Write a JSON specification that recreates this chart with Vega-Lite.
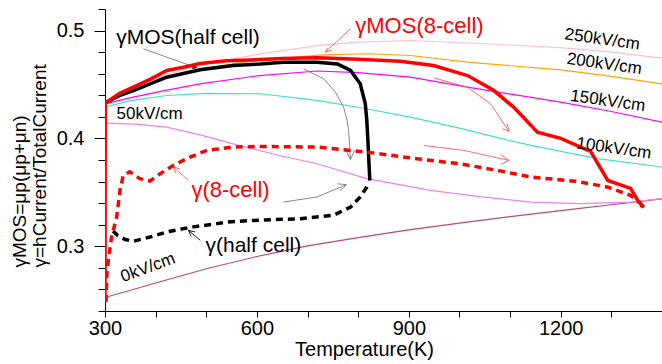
{
  "$schema": "https://vega.github.io/schema/vega-lite/v6.json",
  "width": 557,
  "height": 302,
  "autosize": {"type": "none"},
  "padding": {"left": 105, "top": 9, "right": 0, "bottom": 53},
  "background": "white",
  "config": {"view": {"stroke": null}, "font": "Liberation Sans"},
  "resolve": {"scale": {"color": "independent"}, "axis": {"y": "independent"}},
  "datasets": {
    "thin": [
      {"s":"0kV/cm","T":300,"v":0.2525},{"s":"0kV/cm","T":400,"v":0.266},{"s":"0kV/cm","T":500,"v":0.2792},{"s":"0kV/cm","T":600,"v":0.2905},{"s":"0kV/cm","T":700,"v":0.3003},{"s":"0kV/cm","T":800,"v":0.308},{"s":"0kV/cm","T":900,"v":0.3152},{"s":"0kV/cm","T":1000,"v":0.3215},{"s":"0kV/cm","T":1100,"v":0.3275},{"s":"0kV/cm","T":1200,"v":0.333},{"s":"0kV/cm","T":1300,"v":0.3385},{"s":"0kV/cm","T":1400,"v":0.344},
      {"s":"50kV/cm","T":300,"v":0.4142},{"s":"50kV/cm","T":360,"v":0.4132},{"s":"50kV/cm","T":422,"v":0.4105},{"s":"50kV/cm","T":490,"v":0.403},{"s":"50kV/cm","T":553,"v":0.395},{"s":"50kV/cm","T":650,"v":0.3835},{"s":"50kV/cm","T":719,"v":0.3765},{"s":"50kV/cm","T":817,"v":0.3627},{"s":"50kV/cm","T":943,"v":0.3519},{"s":"50kV/cm","T":1040,"v":0.346},{"s":"50kV/cm","T":1141,"v":0.341},{"s":"50kV/cm","T":1240,"v":0.3395},{"s":"50kV/cm","T":1338,"v":0.341},{"s":"50kV/cm","T":1400,"v":0.3442},
      {"s":"100kV/cm","T":300,"v":0.429},{"s":"100kV/cm","T":350,"v":0.435},{"s":"100kV/cm","T":422,"v":0.4398},{"s":"100kV/cm","T":500,"v":0.4418},{"s":"100kV/cm","T":607,"v":0.4414},{"s":"100kV/cm","T":719,"v":0.4352},{"s":"100kV/cm","T":810,"v":0.428},{"s":"100kV/cm","T":903,"v":0.4198},{"s":"100kV/cm","T":1000,"v":0.4095},{"s":"100kV/cm","T":1081,"v":0.40},{"s":"100kV/cm","T":1141,"v":0.3935},{"s":"100kV/cm","T":1273,"v":0.3812},{"s":"100kV/cm","T":1400,"v":0.3735},
      {"s":"150kV/cm","T":300,"v":0.432},{"s":"150kV/cm","T":356,"v":0.4383},{"s":"150kV/cm","T":420,"v":0.4445},{"s":"150kV/cm","T":488,"v":0.4506},{"s":"150kV/cm","T":600,"v":0.458},{"s":"150kV/cm","T":719,"v":0.4625},{"s":"150kV/cm","T":800,"v":0.461},{"s":"150kV/cm","T":903,"v":0.4568},{"s":"150kV/cm","T":1016,"v":0.4475},{"s":"150kV/cm","T":1200,"v":0.4336},{"s":"150kV/cm","T":1300,"v":0.425},{"s":"150kV/cm","T":1400,"v":0.4151},
      {"s":"200kV/cm","T":300,"v":0.433},{"s":"200kV/cm","T":356,"v":0.445},{"s":"200kV/cm","T":422,"v":0.456},{"s":"200kV/cm","T":488,"v":0.4645},{"s":"200kV/cm","T":600,"v":0.4725},{"s":"200kV/cm","T":730,"v":0.4775},{"s":"200kV/cm","T":820,"v":0.4785},{"s":"200kV/cm","T":903,"v":0.4769},{"s":"200kV/cm","T":1016,"v":0.4707},{"s":"200kV/cm","T":1200,"v":0.4636},{"s":"200kV/cm","T":1300,"v":0.4575},{"s":"200kV/cm","T":1400,"v":0.4506},
      {"s":"250kV/cm","T":300,"v":0.434},{"s":"250kV/cm","T":356,"v":0.447},{"s":"250kV/cm","T":422,"v":0.459},{"s":"250kV/cm","T":500,"v":0.469},{"s":"250kV/cm","T":607,"v":0.4784},{"s":"250kV/cm","T":719,"v":0.486},{"s":"250kV/cm","T":800,"v":0.4893},{"s":"250kV/cm","T":903,"v":0.4908},{"s":"250kV/cm","T":1016,"v":0.4885},{"s":"250kV/cm","T":1100,"v":0.4866},{"s":"250kV/cm","T":1200,"v":0.4842},{"s":"250kV/cm","T":1300,"v":0.48},{"s":"250kV/cm","T":1400,"v":0.4745}
    ],
    "solid": [
      {"s":"γMOS(half cell)","o":1,"T":300,"v":0.433},{"s":"γMOS(half cell)","o":2,"T":330,"v":0.44},{"s":"γMOS(half cell)","o":3,"T":356,"v":0.4444},{"s":"γMOS(half cell)","o":4,"T":422,"v":0.4568},{"s":"γMOS(half cell)","o":5,"T":488,"v":0.4636},{"s":"γMOS(half cell)","o":6,"T":553,"v":0.4676},{"s":"γMOS(half cell)","o":7,"T":607,"v":0.469},{"s":"γMOS(half cell)","o":8,"T":652,"v":0.4707},{"s":"γMOS(half cell)","o":9,"T":719,"v":0.4707},{"s":"γMOS(half cell)","o":10,"T":759,"v":0.469},{"s":"γMOS(half cell)","o":11,"T":785,"v":0.463},{"s":"γMOS(half cell)","o":12,"T":804,"v":0.4506},{"s":"γMOS(half cell)","o":13,"T":814,"v":0.4324},{"s":"γMOS(half cell)","o":14,"T":817,"v":0.4167},{"s":"γMOS(half cell)","o":15,"T":819,"v":0.40},{"s":"γMOS(half cell)","o":16,"T":821,"v":0.38},{"s":"γMOS(half cell)","o":17,"T":823,"v":0.361},
      {"s":"γMOS(8-cell)","o":1,"T":300,"v":0.248},{"s":"γMOS(8-cell)","o":2,"T":300.5,"v":0.433},{"s":"γMOS(8-cell)","o":3,"T":330,"v":0.442},{"s":"γMOS(8-cell)","o":4,"T":356,"v":0.4475},{"s":"γMOS(8-cell)","o":5,"T":390,"v":0.455},{"s":"γMOS(8-cell)","o":6,"T":422,"v":0.463},{"s":"γMOS(8-cell)","o":7,"T":455,"v":0.466},{"s":"γMOS(8-cell)","o":8,"T":488,"v":0.4694},{"s":"γMOS(8-cell)","o":9,"T":540,"v":0.472},{"s":"γMOS(8-cell)","o":10,"T":587,"v":0.4728},{"s":"γMOS(8-cell)","o":11,"T":650,"v":0.474},{"s":"γMOS(8-cell)","o":12,"T":719,"v":0.4747},{"s":"γMOS(8-cell)","o":13,"T":800,"v":0.4735},{"s":"γMOS(8-cell)","o":14,"T":883,"v":0.4716},{"s":"γMOS(8-cell)","o":15,"T":949,"v":0.4676},{"s":"γMOS(8-cell)","o":16,"T":1016,"v":0.4583},{"s":"γMOS(8-cell)","o":17,"T":1068,"v":0.4444},{"s":"γMOS(8-cell)","o":18,"T":1107,"v":0.429},{"s":"γMOS(8-cell)","o":19,"T":1154,"v":0.4058},{"s":"γMOS(8-cell)","o":20,"T":1200,"v":0.40},{"s":"γMOS(8-cell)","o":21,"T":1259,"v":0.388},{"s":"γMOS(8-cell)","o":22,"T":1293,"v":0.361},{"s":"γMOS(8-cell)","o":23,"T":1338,"v":0.3537},{"s":"γMOS(8-cell)","o":24,"T":1352,"v":0.3426},{"s":"γMOS(8-cell)","o":25,"T":1364,"v":0.3364},{"s":"γMOS(8-cell)","o":26,"T":1357,"v":0.338}
    ],
    "dashed": [
      {"s":"γ(8-cell)","o":1,"T":302,"v":0.2484},{"s":"γ(8-cell)","o":2,"T":304,"v":0.278},{"s":"γ(8-cell)","o":3,"T":313,"v":0.3086},{"s":"γ(8-cell)","o":4,"T":323,"v":0.327},{"s":"γ(8-cell)","o":5,"T":329.7,"v":0.352},{"s":"γ(8-cell)","o":6,"T":336,"v":0.3657},{"s":"γ(8-cell)","o":7,"T":349,"v":0.369},{"s":"γ(8-cell)","o":8,"T":369,"v":0.3627},{"s":"γ(8-cell)","o":9,"T":389,"v":0.3605},{"s":"γ(8-cell)","o":10,"T":409,"v":0.3673},{"s":"γ(8-cell)","o":11,"T":435,"v":0.375},{"s":"γ(8-cell)","o":12,"T":468,"v":0.3827},{"s":"γ(8-cell)","o":13,"T":501,"v":0.3889},{"s":"γ(8-cell)","o":14,"T":553,"v":0.392},{"s":"γ(8-cell)","o":15,"T":600,"v":0.3926},{"s":"γ(8-cell)","o":16,"T":719,"v":0.392},{"s":"γ(8-cell)","o":17,"T":817,"v":0.3873},{"s":"γ(8-cell)","o":18,"T":916,"v":0.3812},{"s":"γ(8-cell)","o":19,"T":1000,"v":0.3765},{"s":"γ(8-cell)","o":20,"T":1075,"v":0.3704},{"s":"γ(8-cell)","o":21,"T":1141,"v":0.3642},{"s":"γ(8-cell)","o":22,"T":1230,"v":0.3603},{"s":"γ(8-cell)","o":23,"T":1292,"v":0.355},{"s":"γ(8-cell)","o":24,"T":1338,"v":0.3472},{"s":"γ(8-cell)","o":25,"T":1358,"v":0.3395},{"s":"γ(8-cell)","o":26,"T":1364,"v":0.335},
      {"s":"γ(half cell)","o":1,"T":316,"v":0.3142},{"s":"γ(half cell)","o":2,"T":325,"v":0.31},{"s":"γ(half cell)","o":3,"T":340,"v":0.3063},{"s":"γ(half cell)","o":4,"T":356,"v":0.3046},{"s":"γ(half cell)","o":5,"T":389,"v":0.3086},{"s":"γ(half cell)","o":6,"T":422,"v":0.3133},{"s":"γ(half cell)","o":7,"T":455,"v":0.3164},{"s":"γ(half cell)","o":8,"T":475,"v":0.318},{"s":"γ(half cell)","o":9,"T":521,"v":0.321},{"s":"γ(half cell)","o":10,"T":541,"v":0.3225},{"s":"γ(half cell)","o":11,"T":593,"v":0.324},{"s":"γ(half cell)","o":12,"T":686,"v":0.3256},{"s":"γ(half cell)","o":13,"T":751,"v":0.3287},{"s":"γ(half cell)","o":14,"T":785,"v":0.3364},{"s":"γ(half cell)","o":15,"T":804,"v":0.3457},{"s":"γ(half cell)","o":16,"T":817,"v":0.3549},{"s":"γ(half cell)","o":17,"T":821,"v":0.3596}
    ],
    "arrowsGray": [
      {"a":"A1","o":1,"T":375.8,"v":0.4831},{"a":"A1","o":2,"T":478,"v":0.466},
      {"a":"A5","o":1,"T":692.2,"v":0.4645},{"a":"A5","o":2,"T":731.8,"v":0.4553},{"a":"A5","o":3,"T":754.9,"v":0.4429},{"a":"A5","o":4,"T":771.3,"v":0.429},{"a":"A5","o":5,"T":778,"v":0.4167},{"a":"A5","o":6,"T":781.2,"v":0.4074},{"a":"A5","o":7,"T":784.6,"v":0.3812},
      {"a":"H5","o":1,"T":774.7,"v":0.3905},{"a":"H5","o":2,"T":784.6,"v":0.3803},{"a":"H5","o":3,"T":792.5,"v":0.3889},
      {"a":"A6","o":1,"T":652.7,"v":0.341},{"a":"A6","o":2,"T":718.7,"v":0.3457},{"a":"A6","o":3,"T":776.6,"v":0.3571},
      {"a":"H6","o":1,"T":758.9,"v":0.3579},{"a":"H6","o":2,"T":776.6,"v":0.3571},{"a":"H6","o":3,"T":764.8,"v":0.3514}
    ],
    "arrowsRed": [
      {"a":"A2","o":1,"T":784.6,"v":0.5016},{"a":"A2","o":2,"T":735.1,"v":0.48},
      {"a":"H2","o":1,"T":747.8,"v":0.4817},{"a":"H2","o":2,"T":735.1,"v":0.48},{"a":"H2","o":3,"T":739.6,"v":0.4839},
      {"a":"A3","o":1,"T":464.8,"v":0.3611},{"a":"A3","o":2,"T":435,"v":0.3734},
      {"a":"H3","o":1,"T":447.9,"v":0.3718},{"a":"H3","o":2,"T":435,"v":0.3734},{"a":"H3","o":3,"T":440,"v":0.3677},
      {"a":"A7","o":1,"T":949.3,"v":0.4562},{"a":"A7","o":2,"T":1015.4,"v":0.4475},{"a":"A7","o":3,"T":1061.5,"v":0.4321},{"a":"A7","o":4,"T":1097.7,"v":0.4067},
      {"a":"H7","o":1,"T":1094.5,"v":0.4136},{"a":"H7","o":2,"T":1097.7,"v":0.4067},{"a":"H7","o":3,"T":1084.4,"v":0.409},
      {"a":"A8","o":1,"T":929.5,"v":0.3935},{"a":"A8","o":2,"T":1008.7,"v":0.3889},{"a":"A8","o":3,"T":1097.7,"v":0.3796},
      {"a":"H8","o":1,"T":1081.3,"v":0.3852},{"a":"H8","o":2,"T":1097.7,"v":0.3796},{"a":"H8","o":3,"T":1081.3,"v":0.3759}
    ],
    "arrowsBlack": [
      {"a":"A4","o":1,"T":488,"v":0.3056},{"a":"A4","o":2,"T":464.8,"v":0.3148},
      {"a":"H4","o":1,"T":477.7,"v":0.3133},{"a":"H4","o":2,"T":464.8,"v":0.3148},{"a":"H4","o":3,"T":470,"v":0.3091}
    ]
  },
  "layer": [
    {
      "mark": {"type": "rule", "color": "#8c8c8c", "strokeWidth": 1.2},
      "encoding": {"y": {"datum": 0.52, "type": "quantitative",
        "axis": {"orient": "left", "values": [0.24,0.26,0.28,0.3,0.32,0.34,0.36,0.38,0.4,0.42,0.44,0.46,0.48,0.5,0.52],
          "labels": false, "domain": false, "ticks": true, "tickSize": 7, "tickColor": "black", "title": null, "grid": false}}}
    },
    {
      "data": {"name": "thin"},
      "mark": {"type": "line", "strokeWidth": 1.2, "clip": true},
      "encoding": {
        "x": {"field": "T", "type": "quantitative",
          "scale": {"domain": [300, 1400], "nice": false, "zero": false},
          "axis": {"values": [300,400,500,600,700,800,900,1000,1100,1200,1300,1400], "format": "d",
            "labelExpr": "datum.value % 300 == 0 && datum.value < 1400 ? datum.label : ''",
            "title": "Temperature(K)", "titleFontSize": 20, "titleFontWeight": "normal", "titleColor": "black",
            "titleX": 259, "titleY": 28, "titleBaseline": "top", "titleAlign": "center",
            "labelFontSize": 20, "labelColor": "black", "labelPadding": 1, "labelFlush": false, "labelOverlap": false,
            "tickSize": 6, "tickColor": "black", "domainColor": "black", "grid": false}},
        "y": {"field": "v", "type": "quantitative",
          "scale": {"domain": [0.24, 0.52], "nice": false, "zero": false},
          "axis": {"orient": "left", "values": [0.3, 0.4, 0.5], "format": ".1f",
            "title": ["γMOS=μp(μp+μn)", "γ=hCurrent/TotalCurrent"], "titleFontSize": 19, "titleFontWeight": "normal", "titleColor": "black",
            "titleAngle": -90, "titleAlign": "left", "titleBaseline": "top", "titleX": -95, "titleY": 258, "titleLineHeight": 20,
            "labelFontSize": 20, "labelColor": "black", "labelPadding": 10, "labelFlush": false, "labelOverlap": false,
            "tickSize": 11, "tickColor": "black", "domainColor": "black", "grid": false}},
        "color": {"field": "s", "type": "nominal", "legend": null,
          "scale": {"domain": ["0kV/cm","50kV/cm","100kV/cm","150kV/cm","200kV/cm","250kV/cm"],
                    "range": ["#b8487a","#ee82ee","#40e0d0","#ff00ff","#ffa500","#ffc0cb"]}}
      }
    },
    {
      "data": {"name": "arrowsGray"},
      "mark": {"type": "line", "color": "#7a7a7a", "strokeWidth": 0.9},
      "encoding": {"x": {"field": "T", "type": "quantitative"}, "y": {"field": "v", "type": "quantitative", "axis": null}, "detail": {"field": "a"}, "order": {"field": "o"}}
    },
    {
      "data": {"name": "arrowsRed"},
      "mark": {"type": "line", "color": "#ff5a5a", "strokeWidth": 0.9},
      "encoding": {"x": {"field": "T", "type": "quantitative"}, "y": {"field": "v", "type": "quantitative", "axis": null}, "detail": {"field": "a"}, "order": {"field": "o"}}
    },
    {
      "data": {"name": "arrowsBlack"},
      "mark": {"type": "line", "color": "#000000", "strokeWidth": 0.9},
      "encoding": {"x": {"field": "T", "type": "quantitative"}, "y": {"field": "v", "type": "quantitative", "axis": null}, "detail": {"field": "a"}, "order": {"field": "o"}}
    },
    {
      "data": {"values": [{"T": 478, "v": 0.466}]},
      "mark": {"type": "point", "shape": "triangle-right", "angle": 20, "size": 30, "filled": true, "color": "black", "opacity": 1},
      "encoding": {"x": {"field": "T", "type": "quantitative"}, "y": {"field": "v", "type": "quantitative", "axis": null}}
    },
    {
      "data": {"name": "solid"},
      "mark": {"type": "line", "strokeWidth": 3.5, "clip": true},
      "encoding": {"x": {"field": "T", "type": "quantitative"}, "y": {"field": "v", "type": "quantitative", "axis": null},
        "color": {"field": "s", "type": "nominal", "legend": null,
          "scale": {"domain": ["γMOS(half cell)","γMOS(8-cell)"], "range": ["#000000","#ff0000"]}},
        "order": {"field": "o"}}
    },
    {
      "data": {"name": "dashed"},
      "mark": {"type": "line", "strokeWidth": 3.5, "strokeDash": [7, 5], "clip": true},
      "encoding": {"x": {"field": "T", "type": "quantitative"}, "y": {"field": "v", "type": "quantitative", "axis": null},
        "color": {"field": "s", "type": "nominal", "legend": null,
          "scale": {"domain": ["γ(half cell)","γ(8-cell)"], "range": ["#000000","#ff0000"]}},
        "order": {"field": "o"}}
    },
    {
      "data": {"values": [{"t": "γMOS(half cell)", "T": 464, "v": 0.4935}, {"t": "γ(half cell)", "T": 593, "v": 0.30}]},
      "mark": {"type": "text", "fontSize": 21, "color": "black", "align": "center", "baseline": "middle"},
      "encoding": {"x": {"field": "T", "type": "quantitative"}, "y": {"field": "v", "type": "quantitative", "axis": null}, "text": {"field": "t"}}
    },
    {
      "data": {"values": [{"t": "γMOS(8-cell)", "T": 921, "v": 0.5046}, {"t": "γ(8-cell)", "T": 548, "v": 0.352}]},
      "mark": {"type": "text", "fontSize": 22, "color": "#ff0000", "align": "center", "baseline": "middle"},
      "encoding": {"x": {"field": "T", "type": "quantitative"}, "y": {"field": "v", "type": "quantitative", "axis": null}, "text": {"field": "t"}}
    },
    {
      "data": {"values": [{"t": "250kV/cm", "T": 1282, "v": 0.4917}, {"t": "200kV/cm", "T": 1286, "v": 0.469}, {"t": "150kV/cm", "T": 1293, "v": 0.4347}, {"t": "100kV/cm", "T": 1305, "v": 0.3907}]},
      "mark": {"type": "text", "fontSize": 17, "color": "black", "align": "center", "baseline": "middle", "angle": 8},
      "encoding": {"x": {"field": "T", "type": "quantitative"}, "y": {"field": "v", "type": "quantitative", "axis": null}, "text": {"field": "t"}}
    },
    {
      "data": {"values": [{"t": "50kV/cm", "T": 388, "v": 0.4227}]},
      "mark": {"type": "text", "fontSize": 17, "color": "black", "align": "center", "baseline": "middle"},
      "encoding": {"x": {"field": "T", "type": "quantitative"}, "y": {"field": "v", "type": "quantitative", "axis": null}, "text": {"field": "t"}}
    },
    {
      "data": {"values": [{"t": "0kV/cm", "T": 385, "v": 0.2801}]},
      "mark": {"type": "text", "fontSize": 17, "color": "black", "align": "center", "baseline": "middle", "angle": -20},
      "encoding": {"x": {"field": "T", "type": "quantitative"}, "y": {"field": "v", "type": "quantitative", "axis": null}, "text": {"field": "t"}}
    }
  ]
}
